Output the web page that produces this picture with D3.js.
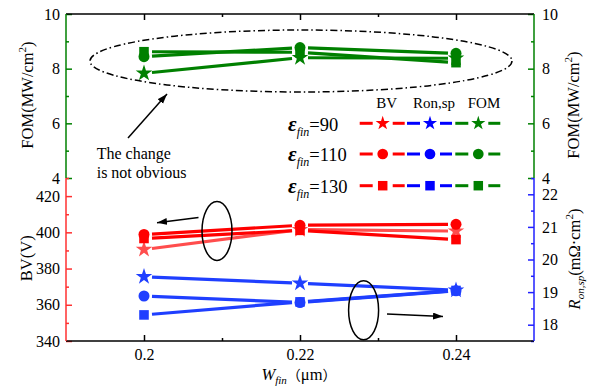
<!DOCTYPE html>
<html lang="en">
<head>
<meta charset="utf-8">
<title>FOM / BV / Ron vs Wfin</title>
<script src="https://d3js.org/d3.v7.min.js"></script>
<style>
  body { margin: 0; background: #fff; }
</style>
</head>
<body>
<script>
// data
var xVals = [0.2, 0.22, 0.24];
var xTickLabels = ["0.2", "0.22", "0.24"];

var fomStar   = [7.83, 8.40, 8.38];
var fomCircle = [8.44, 8.77, 8.56];
var fomSquare = [8.62, 8.60, 8.22];

var bvStar   = [390.5, 401.5, 400.7];
var bvCircle = [398.8, 403.9, 404.4];
var bvSquare = [396.6, 401.1, 396.0];

var ronStar   = [19.47, 19.27, 19.06];
var ronCircle = [18.88, 18.68, 19.04];
var ronSquare = [18.30, 18.70, 19.05];

var epsLabels = ["90", "110", "130"];
var legendHeads = ["BV", "Ron,sp", "FOM"];

var fomTicks = [4, 6, 8, 10], fomMinor = [5, 7, 9];
var bvTicks = [340, 360, 380, 400, 420], bvMinor = [350, 370, 390, 410, 430];
var ronTicks = [18, 19, 20, 21, 22], ronMinor = [17.5, 18.5, 19.5, 20.5, 21.5, 22.5];
var xMinor = [0.21, 0.23];

var serif = "'Liberation Serif', 'Times New Roman', serif";
var w = 590, h = 389;
var pLeft = 66, pRight = 534, pTop = 14, pMid = 178, pBottom = 341;

var svg = d3.select("body").append("svg")
  .attr("width", w).attr("height", h)
  .attr("font-family", serif);

var x = d3.scaleLinear().domain([0.19, 0.25]).range([pLeft, pRight]);
var yF = d3.scaleLinear().domain([4, 10]).range([pMid, pTop]);
var yB = d3.scaleLinear().domain([340, 430]).range([pBottom, pMid]);
var yR = d3.scaleLinear().domain([17.5, 22.5]).range([pBottom, pMid]);

// arrow head
svg.append("defs").append("marker")
  .attr("id", "arr").attr("markerUnits", "userSpaceOnUse")
  .attr("markerWidth", 11).attr("markerHeight", 8)
  .attr("refX", 10).attr("refY", 3.5).attr("orient", "auto")
  .append("path").attr("d", "M0,0 L10,3.5 L0,7 z").attr("fill", "#000");

// axes
function drawAxis(gen, tr, color) {
  var g = svg.append("g").attr("transform", tr).call(gen);
  g.select(".domain").remove();
  g.attr("font-family", serif).attr("font-size", 16);
  g.selectAll("line").attr("stroke", color).attr("stroke-width", 1.5);
  g.selectAll("text").attr("fill", "#000").attr("font-family", serif);
}
var plain = d3.format("");

drawAxis(d3.axisLeft(yF).tickValues(fomTicks).tickSize(-6).tickPadding(6).tickFormat(plain), "translate(" + pLeft + ",0)", "green");
drawAxis(d3.axisLeft(yF).tickValues(fomMinor).tickSize(-3).tickFormat(""), "translate(" + pLeft + ",0)", "green");
drawAxis(d3.axisLeft(yB).tickValues(bvTicks).tickSize(-6).tickPadding(6).tickFormat(plain), "translate(" + pLeft + ",0)", "#ff3030");
drawAxis(d3.axisLeft(yB).tickValues(bvMinor).tickSize(-3).tickFormat(""), "translate(" + pLeft + ",0)", "#ff3030");

drawAxis(d3.axisRight(yF).tickValues(fomTicks).tickSize(-6).tickPadding(8).tickFormat(plain), "translate(" + pRight + ",0)", "green");
drawAxis(d3.axisRight(yF).tickValues(fomMinor).tickSize(-3).tickFormat(""), "translate(" + pRight + ",0)", "green");
drawAxis(d3.axisRight(yR).tickValues(ronTicks).tickSize(-6).tickPadding(8).tickFormat(plain), "translate(" + pRight + ",0)", "#2020ff");
drawAxis(d3.axisRight(yR).tickValues(ronMinor).tickSize(-3).tickFormat(""), "translate(" + pRight + ",0)", "#2020ff");

drawAxis(d3.axisBottom(x).tickValues(xVals).tickSize(-6).tickPadding(8)
  .tickFormat(function(d, i) { return xTickLabels[i]; }), "translate(0," + pBottom + ")", "#000");
drawAxis(d3.axisBottom(x).tickValues(xMinor).tickSize(-3).tickFormat(""), "translate(0," + pBottom + ")", "#000");
drawAxis(d3.axisTop(x).tickValues(xVals).tickSize(-6).tickFormat(""), "translate(0," + pTop + ")", "#000");
drawAxis(d3.axisTop(x).tickValues(xMinor).tickSize(-3).tickFormat(""), "translate(0," + pTop + ")", "#000");

// frame lines
var frame = [
  [pLeft, pTop, pRight, pTop, "#000"], [pLeft, pBottom, pRight, pBottom, "#000"],
  [pLeft, pTop, pLeft, pMid, "green"], [pLeft, pMid, pLeft, pBottom, "#ff3030"],
  [pRight, pTop, pRight, pMid, "green"], [pRight, pMid, pRight, pBottom, "#2020ff"]
];
svg.selectAll(".frame").data(frame).enter().append("line")
  .attr("x1", function(d) { return d[0]; }).attr("y1", function(d) { return d[1]; })
  .attr("x2", function(d) { return d[2]; }).attr("y2", function(d) { return d[3]; })
  .attr("stroke", function(d) { return d[4]; }).attr("stroke-width", 1.5);

// series
var shapes = { star: d3.symbolStar, circle: d3.symbolCircle, square: d3.symbolSquare };
var sizes = { star: 85, circle: 95, square: 92 };
var series = [
  { vals: fomStar,   y: yF, color: "#008000", shape: "star" },
  { vals: fomSquare, y: yF, color: "#008000", shape: "square" },
  { vals: fomCircle, y: yF, color: "#008000", shape: "circle" },
  { vals: bvStar,    y: yB, color: "#ff4d4d", shape: "star" },
  { vals: bvSquare,  y: yB, color: "#ff0000", shape: "square" },
  { vals: bvCircle,  y: yB, color: "#ff0000", shape: "circle" },
  { vals: ronStar,   y: yR, color: "#1f3fff", shape: "star" },
  { vals: ronSquare, y: yR, color: "#1f3fff", shape: "square" },
  { vals: ronCircle, y: yR, color: "#1f3fff", shape: "circle" }
];

var gap = 8;
series.forEach(function(s) {
  var pts = xVals.map(function(d, i) { return [x(d), s.y(s.vals[i])]; });
  for (var i = 0; i < pts.length - 1; i++) {
    var a = pts[i], b = pts[i + 1];
    var dx = b[0] - a[0], dy = b[1] - a[1], len = Math.sqrt(dx * dx + dy * dy);
    var ux = dx / len, uy = dy / len;
    svg.append("line")
      .attr("x1", a[0] + ux * gap).attr("y1", a[1] + uy * gap)
      .attr("x2", b[0] - ux * gap).attr("y2", b[1] - uy * gap)
      .attr("stroke", s.color).attr("stroke-width", 3.2);
  }
});
series.forEach(function(s) {
  svg.selectAll(null).data(xVals).enter().append("path")
    .attr("transform", function(d, i) { return "translate(" + x(d) + "," + s.y(s.vals[i]) + ")"; })
    .attr("d", d3.symbol().type(shapes[s.shape]).size(sizes[s.shape]))
    .attr("fill", s.color);
});

// legend
var legX = [382.7, 430, 478.3];
var headX = [386.7, 434, 484];
var legColors = ["#ff0000", "#0000ff", "#008000"];
var legShapes = ["star", "circle", "square"];
var legY = [123.3, 154, 185.7];

svg.selectAll(".head").data(legendHeads).enter().append("text")
  .attr("x", function(d, i) { return headX[i]; }).attr("y", 108)
  .attr("text-anchor", "middle").attr("font-size", 15).text(function(d) { return d; });

epsLabels.forEach(function(lab, r) {
  var t = svg.append("text").attr("x", 288).attr("y", legY[r] + 7.4);
  t.append("tspan").attr("font-size", 21).attr("font-weight", "bold").attr("font-style", "italic").text("ε");
  t.append("tspan").attr("font-size", 12).attr("font-style", "italic").attr("dy", 5).text("fin");
  t.append("tspan").attr("font-size", 18.5).attr("dy", -5).text("=" + lab);
  legX.forEach(function(cx, c) {
    [[cx - 23, cx - 10], [cx + 10, cx + 22]].forEach(function(seg) {
      svg.append("line").attr("x1", seg[0]).attr("x2", seg[1])
        .attr("y1", legY[r]).attr("y2", legY[r])
        .attr("stroke", legColors[c]).attr("stroke-width", 3);
    });
    svg.append("path")
      .attr("transform", "translate(" + cx + "," + legY[r] + ")")
      .attr("d", d3.symbol().type(shapes[legShapes[r]]).size(legShapes[r] === "star" ? 62 : 90))
      .attr("fill", legColors[c]);
  });
});

// annotations
svg.append("ellipse").attr("cx", 301).attr("cy", 61).attr("rx", 211).attr("ry", 31)
  .attr("fill", "none").attr("stroke", "#000").attr("stroke-width", 1.5)
  .attr("stroke-dasharray", "7,3,1.5,3");
svg.append("ellipse").attr("cx", 217).attr("cy", 231).attr("rx", 15).attr("ry", 29.4)
  .attr("fill", "none").attr("stroke", "#000").attr("stroke-width", 1.5);
svg.append("ellipse").attr("cx", 363.6).attr("cy", 310.3).attr("rx", 15).attr("ry", 29.5)
  .attr("fill", "none").attr("stroke", "#000").attr("stroke-width", 1.5);

var arrows = [[128, 138, 167, 94], [198.5, 217.5, 157, 222.7], [387, 314, 443, 316.5]];
svg.selectAll(".arrow").data(arrows).enter().append("line")
  .attr("x1", function(d) { return d[0]; }).attr("y1", function(d) { return d[1]; })
  .attr("x2", function(d) { return d[2]; }).attr("y2", function(d) { return d[3]; })
  .attr("stroke", "#000").attr("stroke-width", 1.5).attr("marker-end", "url(#arr)");

svg.append("text").attr("x", 96.7).attr("y", 159.3).attr("font-size", 16).text("The change");
svg.append("text").attr("x", 96.7).attr("y", 178.3).attr("font-size", 16).text("is not obvious");

// axis titles
function fomTitle(tx, ty) {
  var t = svg.append("text").attr("transform", "translate(" + tx + "," + ty + ") rotate(-90)")
    .attr("text-anchor", "middle").attr("font-size", 16.5);
  t.append("tspan").text("FOM(MW/cm");
  t.append("tspan").attr("font-size", 11).attr("dy", -7).text("2");
  t.append("tspan").attr("dy", 7).text(")");
}
fomTitle(33, 95);
fomTitle(578.5, 105);

svg.append("text").attr("transform", "translate(31.7,258.3) rotate(-90)")
  .attr("text-anchor", "middle").attr("font-size", 16.5).text("BV(V)");

var rt = svg.append("text").attr("transform", "translate(580,259) rotate(-90)")
  .attr("text-anchor", "middle").attr("font-size", 16.5);
rt.append("tspan").attr("font-style", "italic").text("R");
rt.append("tspan").attr("font-style", "italic").attr("font-size", 11).attr("dy", 4).text("on,sp");
rt.append("tspan").attr("dy", -4).text("(mΩ·cm");
rt.append("tspan").attr("font-size", 11).attr("dy", -7).text("2");
rt.append("tspan").attr("dy", 7).text(")");

var xt = svg.append("text").attr("x", 299).attr("y", 380).attr("text-anchor", "middle").attr("font-size", 16.5);
xt.append("tspan").attr("font-style", "italic").text("W");
xt.append("tspan").attr("font-style", "italic").attr("font-size", 11).attr("dy", 4).text("fin");
xt.append("tspan").attr("dy", -4).attr("font-family", "'Noto Sans CJK SC', sans-serif").attr("font-size", 14).text("（");
xt.append("tspan").text("μm");
xt.append("tspan").attr("font-family", "'Noto Sans CJK SC', sans-serif").attr("font-size", 14).text("）");
</script>
</body>
</html>
